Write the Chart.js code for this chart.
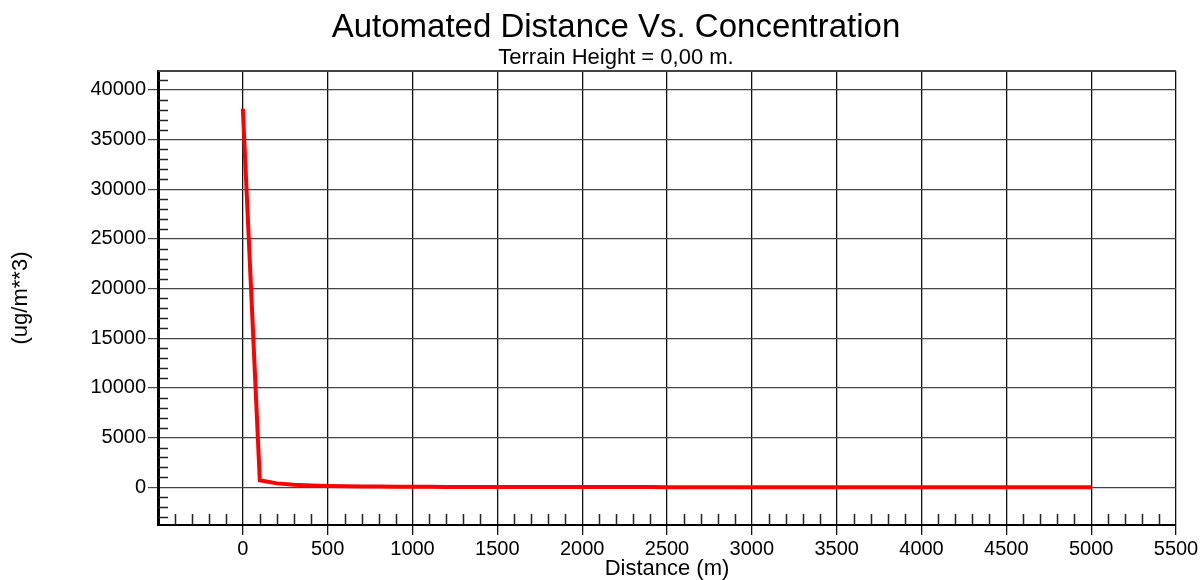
<!DOCTYPE html>
<html>
<head>
<meta charset="utf-8">
<title>Automated Distance Vs. Concentration</title>
<script src="https://cdn.jsdelivr.net/npm/chart.js@4/dist/chart.umd.min.js"></script>
<style>
    html, body { margin: 0; padding: 0; background: #fff; }
    canvas { display: block; }
</style>
</head>
<body>
<canvas id="conc-chart" width="1202" height="580"></canvas>
<script>
// Distance (m) and concentration (ug/m**3) at each receptor
const distances = [
    0, 100, 200, 300, 400, 500, 600, 700, 800, 900,
    1000, 1100, 1200, 1300, 1400, 1500, 1600, 1700, 1800, 1900,
    2000, 2100, 2200, 2300, 2400, 2500, 2600, 2700, 2800, 2900,
    3000, 3100, 3200, 3300, 3400, 3500, 3600, 3700, 3800, 3900,
    4000, 4100, 4200, 4300, 4400, 4500, 4600, 4700, 4800, 4900,
    5000
];
const concentrations = [
    38100, 700, 390, 250, 175, 130, 100, 80, 66, 55,
    47, 41, 36, 32, 29, 26, 24, 22, 20, 18.5,
    17, 16, 15, 14, 13.2, 12.5, 11.8, 11.2, 10.6, 10.1,
    9.6, 9.2, 8.8, 8.4, 8.0, 7.7, 7.4, 7.1, 6.8, 6.6,
    6.3, 6.1, 5.9, 5.7, 5.5, 5.3, 5.1, 5.0, 4.8, 4.7,
    4.5
];

// Axis ticks
const xTickValues = [0, 500, 1000, 1500, 2000, 2500, 3000, 3500, 4000, 4500, 5000, 5500];
const yTickValues = [0, 5000, 10000, 15000, 20000, 25000, 30000, 35000, 40000];
const xRange = [-500, 5500];
const yRange = [-3800, 41900];
const xMinorStep = 100;
const yMinorStep = 1000;

const chartTitle = 'Automated Distance Vs. Concentration';
const chartSubtitle = 'Terrain Height = 0,00 m.';

const FONT = "'Liberation Sans', Arial, Helvetica, sans-serif";

// small inner ticks between the labelled ones, plus the top frame line
const minorTicks = {
    id: 'minorTicks',
    beforeDatasetsDraw(chart) {
        const ctx = chart.ctx;
        const area = chart.chartArea;
        const x = chart.scales.x;
        const y = chart.scales.y;
        ctx.save();
        ctx.strokeStyle = '#222';
        ctx.lineWidth = 1.5;
        ctx.beginPath();
        for (let v = Math.ceil(xRange[0] / xMinorStep) * xMinorStep; v <= xRange[1]; v += xMinorStep) {
            if (v % 500 === 0) continue;
            const px = Math.round(x.getPixelForValue(v)) + 0.5;
            ctx.moveTo(px, area.bottom);
            ctx.lineTo(px, area.bottom - 11);
        }
        for (let v = Math.ceil(yRange[0] / yMinorStep) * yMinorStep; v <= yRange[1]; v += yMinorStep) {
            if (v % 5000 === 0) continue;
            const py = Math.round(y.getPixelForValue(v)) + 0.5;
            ctx.moveTo(area.left, py);
            ctx.lineTo(area.left + 10, py);
        }
        ctx.stroke();

        ctx.strokeStyle = '#444';
        ctx.lineWidth = 2;
        ctx.beginPath();
        ctx.moveTo(area.left, area.top);
        ctx.lineTo(area.right, area.top);
        ctx.stroke();
        ctx.restore();
    }
};

// title and subtitle, centred a little right of the canvas middle
const headerText = {
    id: 'headerText',
    afterDraw(chart) {
        const ctx = chart.ctx;
        const cx = 616;
        ctx.save();
        ctx.fillStyle = '#000';
        ctx.textAlign = 'center';
        ctx.textBaseline = 'alphabetic';
        ctx.font = '33px ' + FONT;
        ctx.fillText(chartTitle, cx, 37);
        ctx.font = '22px ' + FONT;
        ctx.fillText(chartSubtitle, cx, 64);
        ctx.restore();
    }
};

const chartData = {
    datasets: [{
        label: 'Concentration',
        data: distances.map((d, i) => ({ x: d, y: concentrations[i] })),
        borderColor: '#ff0000',
        backgroundColor: '#ff0000',
        borderWidth: 4,
        pointRadius: 0,
        tension: 0,
        fill: false
    }]
};

const chartOptions = {
    responsive: false,
    animation: false,
    layout: {
        padding: { left: 0, right: 26, top: 71, bottom: 0 }
    },
    plugins: {
        legend: { display: false },
        tooltip: { enabled: false },
        title: { display: false },
        subtitle: { display: false }
    },
    scales: {
        x: {
            type: 'linear',
            min: xRange[0],
            max: xRange[1],
            afterBuildTicks(scale) {
                scale.ticks = xTickValues.map(v => ({ value: v }));
            },
            afterFit(scale) {
                scale.height = 55;
            },
            grid: {
                color: '#111',
                lineWidth: 1.3,
                tickLength: 10,
                drawTicks: true
            },
            border: { display: true, color: '#000', width: 2 },
            ticks: {
                color: '#000',
                padding: 2,
                maxRotation: 0,
                autoSkip: false,
                font: { family: FONT, size: 20 },
                callback: v => String(v)
            },
            title: {
                display: true,
                text: 'Distance (m)',
                color: '#000',
                font: { family: FONT, size: 22, lineHeight: 1 },
                padding: { top: 0, bottom: 0 }
            }
        },
        y: {
            type: 'linear',
            min: yRange[0],
            max: yRange[1],
            afterBuildTicks(scale) {
                scale.ticks = yTickValues.map(v => ({ value: v }));
            },
            afterFit(scale) {
                scale.width = 158;
            },
            grid: {
                color: '#444',
                lineWidth: 1.2,
                tickLength: 10,
                drawTicks: true
            },
            border: { display: true, color: '#000', width: 3 },
            ticks: {
                color: '#000',
                padding: 2,
                autoSkip: false,
                font: { family: FONT, size: 20 },
                callback: v => String(v)
            },
            title: {
                display: true,
                text: '(ug/m**3)',
                color: '#000',
                font: { family: FONT, size: 22, lineHeight: 1 },
                padding: { top: 10, bottom: 0 }
            }
        }
    }
};

new Chart(document.getElementById('conc-chart').getContext('2d'), {
    type: 'line',
    data: chartData,
    options: chartOptions,
    plugins: [minorTicks, headerText]
});
</script>
</body>
</html>
